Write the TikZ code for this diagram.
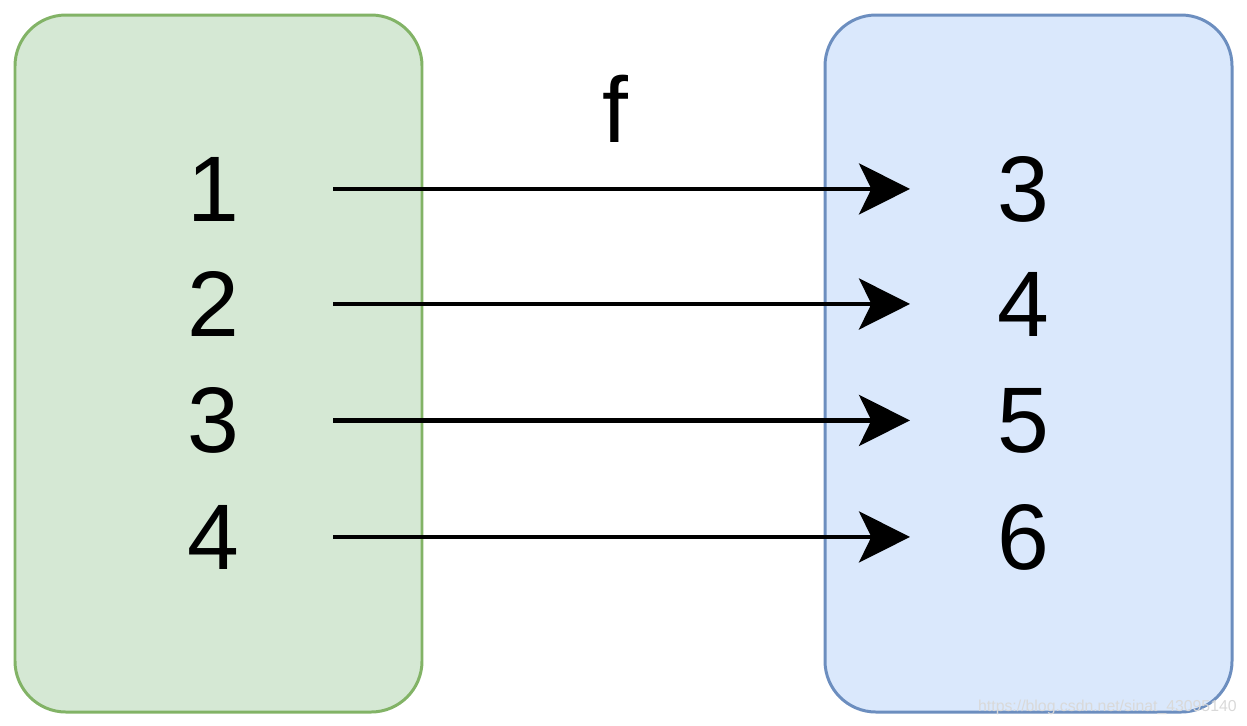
\documentclass[tikz,border=0pt]{standalone}
\usepackage{fontspec}
\setmainfont{Liberation Sans}
\definecolor{domgreen}{RGB}{213, 232, 212}
\definecolor{domgreenline}{RGB}{130, 179, 102}
\definecolor{codblue}{RGB}{218, 232, 252}
\definecolor{codblueline}{RGB}{108, 142, 191}
\usetikzlibrary{arrows.meta, positioning, calc}

\begin{document}
\begin{tikzpicture}[x=0.02cm, y=-0.02cm,
    setbox/.style={line width=1.7pt, rounded corners=29pt},
    num/.style={font=\fontsize{53}{60}\selectfont, inner sep=0pt, anchor=base},
    fmap/.style={line width=2.6pt, -{Stealth[length=29pt, width=29pt, inset=7pt]}}]
  \useasboundingbox (0, 0) rectangle (1247, 725);

  % Domain and codomain
  \draw[setbox, fill=domgreen, draw=domgreenline] (15, 15) rectangle (422, 712);
  \draw[setbox, fill=codblue, draw=codblueline] (825, 15) rectangle (1232, 712);

  \coordinate (sx) at (333, 0);
  \coordinate (ex) at (910, 0);

  % Elements and mapping
  \foreach \a/\b/\y in {1/3/221, 2/4/336, 3/5/452, 4/6/569} {
    \node[num] (l\a) at (213, \y) {\a};
    \node[num] (r\a) at (1023, \y) {\b};
    \draw[fmap] (sx |- r\a) -- (ex |- r\a);
  }

  \node[num] (f) at (615, 142) {f};

  % Watermark
  \node[font=\fontsize{9}{10}\selectfont, text=gray!30, inner sep=0pt, anchor=base east] (wm) at (1237, 711) {https://blog.csdn.net/sinat\_43095140};
\end{tikzpicture}
\end{document}
